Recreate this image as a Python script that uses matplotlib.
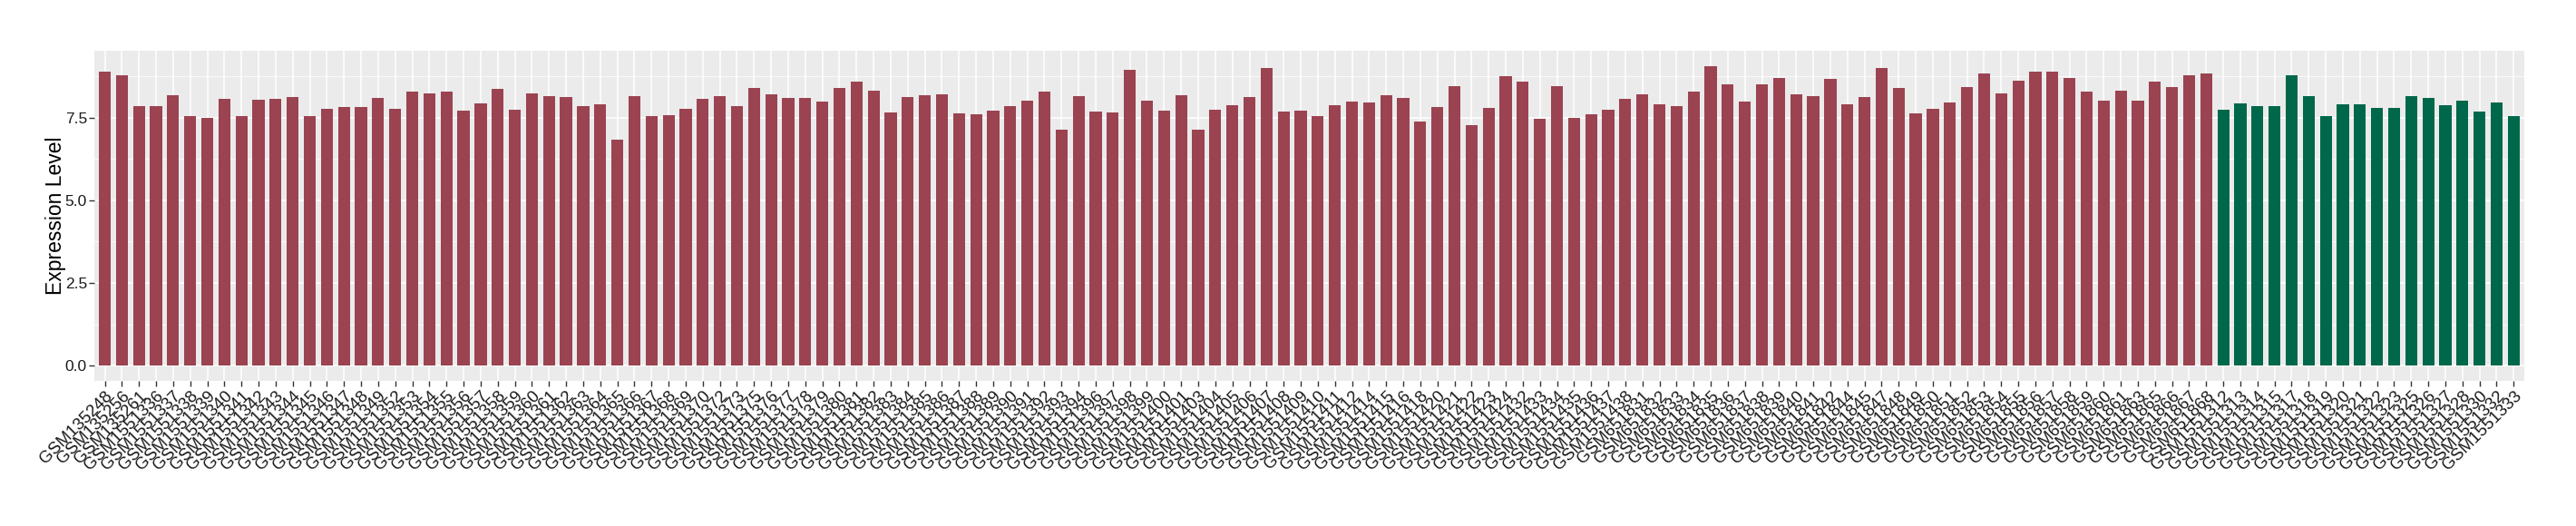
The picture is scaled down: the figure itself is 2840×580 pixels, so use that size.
# bar chart of expression level per sample
import matplotlib
matplotlib.use('Agg')
# to make plots
from matplotlib import pyplot as plt
from matplotlib.ticker import MultipleLocator

# sample names in plot order
samples = [
    'GSM135248', 'GSM135256', 'GSM135261', 'GSM1551336', 'GSM1551337', 'GSM1551338',
    'GSM1551339', 'GSM1551340', 'GSM1551341', 'GSM1551342', 'GSM1551343', 'GSM1551344',
    'GSM1551345', 'GSM1551346', 'GSM1551347', 'GSM1551348', 'GSM1551349', 'GSM1551352',
    'GSM1551353', 'GSM1551354', 'GSM1551355', 'GSM1551356', 'GSM1551357', 'GSM1551358',
    'GSM1551359', 'GSM1551360', 'GSM1551361', 'GSM1551362', 'GSM1551363', 'GSM1551364',
    'GSM1551365', 'GSM1551366', 'GSM1551367', 'GSM1551368', 'GSM1551369', 'GSM1551370',
    'GSM1551372', 'GSM1551373', 'GSM1551375', 'GSM1551376', 'GSM1551377', 'GSM1551378',
    'GSM1551379', 'GSM1551380', 'GSM1551381', 'GSM1551382', 'GSM1551383', 'GSM1551384',
    'GSM1551385', 'GSM1551386', 'GSM1551387', 'GSM1551388', 'GSM1551389', 'GSM1551390',
    'GSM1551391', 'GSM1551392', 'GSM1551393', 'GSM1551394', 'GSM1551396', 'GSM1551397',
    'GSM1551398', 'GSM1551399', 'GSM1551400', 'GSM1551401', 'GSM1551403', 'GSM1551404',
    'GSM1551405', 'GSM1551406', 'GSM1551407', 'GSM1551408', 'GSM1551409', 'GSM1551410',
    'GSM1551411', 'GSM1551412', 'GSM1551414', 'GSM1551415', 'GSM1551416', 'GSM1551418',
    'GSM1551420', 'GSM1551421', 'GSM1551422', 'GSM1551423', 'GSM1551424', 'GSM1551432',
    'GSM1551433', 'GSM1551434', 'GSM1551435', 'GSM1551436', 'GSM1551437', 'GSM1551438',
    'GSM651831', 'GSM651832', 'GSM651833', 'GSM651834', 'GSM651835', 'GSM651836',
    'GSM651837', 'GSM651838', 'GSM651839', 'GSM651840', 'GSM651841', 'GSM651842',
    'GSM651844', 'GSM651845', 'GSM651847', 'GSM651848', 'GSM651849', 'GSM651850',
    'GSM651851', 'GSM651852', 'GSM651853', 'GSM651854', 'GSM651855', 'GSM651856',
    'GSM651857', 'GSM651858', 'GSM651859', 'GSM651860', 'GSM651861', 'GSM651863',
    'GSM651865', 'GSM651866', 'GSM651867', 'GSM651868',
    'GSM1551312', 'GSM1551313', 'GSM1551314', 'GSM1551315', 'GSM1551317', 'GSM1551318',
    'GSM1551319', 'GSM1551320', 'GSM1551321', 'GSM1551322', 'GSM1551323', 'GSM1551325',
    'GSM1551326', 'GSM1551327', 'GSM1551328', 'GSM1551330', 'GSM1551332', 'GSM1551333',
]

# expression values
expression = [
    8.88, 8.77, 7.85, 7.85, 8.18, 7.55, 7.48, 8.06, 7.55, 8.03, 8.06, 8.11,
    7.55, 7.76, 7.82, 7.82, 8.08, 7.76, 8.27, 8.24, 8.27, 7.71, 7.92, 8.35,
    7.74, 8.24, 8.14, 8.11, 7.85, 7.90, 6.83, 8.14, 7.55, 7.58, 7.76, 8.06,
    8.14, 7.85, 8.38, 8.21, 8.08, 8.08, 7.97, 8.38, 8.59, 8.32, 7.66, 8.11,
    8.17, 8.21, 7.63, 7.61, 7.71, 7.85, 8.00, 8.27, 7.13, 8.14, 7.68, 7.66,
    8.93, 8.00, 7.71, 8.18, 7.13, 7.74, 7.87, 8.11, 8.99, 7.68, 7.71, 7.53,
    7.87, 7.97, 7.95, 8.17, 8.08, 7.39, 7.82, 8.45, 7.26, 7.79, 8.74, 8.59,
    7.45, 8.45, 7.50, 7.61, 7.74, 8.06, 8.21, 7.90, 7.85, 8.29, 9.06, 8.50,
    7.97, 8.50, 8.70, 8.21, 8.14, 8.67, 7.90, 8.11, 8.99, 8.40, 7.63, 7.76,
    7.95, 8.43, 8.82, 8.24, 8.61, 8.88, 8.88, 8.70, 8.27, 8.00, 8.32, 8.00,
    8.59, 8.43, 8.77, 8.82,
    7.74, 7.92, 7.85, 7.85, 8.77, 8.14, 7.53, 7.90, 7.90, 7.79, 7.79, 8.14,
    8.08, 7.87, 8.00, 7.68, 7.95, 7.55,
]

# which group each sample belongs to
group_names = ['Tumor', 'Normal']
group_sizes = [124, 18]
group_colors = {'Tumor': '#9B4351', 'Normal': '#00684A'}

groups = []
for name, size in zip(group_names, group_sizes):
    groups += [name] * size
bar_colors = [group_colors[g] for g in groups]

plt.rcParams['font.family'] = ['Liberation Sans', 'DejaVu Sans']

fig = plt.figure(figsize=(28.4, 5.8), dpi=100)
ax = fig.add_axes([0.0367, 0.2759, 0.9431, 0.6275])

x = list(range(len(samples)))
ax.bar(x, expression, width=0.7, color=bar_colors, zorder=3)

# ggplot-like limits (discrete expansion on x, 5% on y)
ax.set_xlim(-0.6, len(samples) - 1 + 0.6)
top = max(expression)
ax.set_ylim(-0.05 * top, top * 1.05)

# grey panel with white grid
ax.set_facecolor('#EBEBEB')
for side in ax.spines.values():
    side.set_visible(False)
ax.yaxis.set_major_locator(MultipleLocator(2.5))
ax.yaxis.set_minor_locator(MultipleLocator(1.25))
ax.grid(which='major', color='white', linewidth=1.1, zorder=0)
ax.grid(which='minor', axis='y', color='white', linewidth=0.55, zorder=0)
ax.set_axisbelow(True)

ax.set_xticks(x)
ax.set_xticklabels(samples, rotation=45, ha='right', va='top',
                   rotation_mode='anchor', fontsize=13.5, color='#1A1A1A')
ax.set_yticks([0, 2.5, 5.0, 7.5])
ax.set_yticklabels(['0.0', '2.5', '5.0', '7.5'], fontsize=12.5, color='#1A1A1A')
ax.tick_params(axis='both', which='major', length=4, width=1, color='#333333', pad=2)
ax.tick_params(axis='y', which='minor', length=0)

ax.set_ylabel('Expression Level', fontsize=16.5)
ax.yaxis.set_label_coords(-0.0115, 0.5)

fig.savefig('out.png', dpi=100)
